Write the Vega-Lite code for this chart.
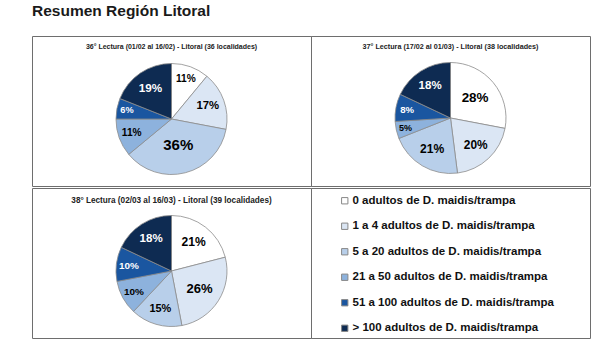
{
  "$schema": "https://vega.github.io/schema/vega-lite/v6.json",
  "padding": {"left": 31, "top": 4, "right": 10, "bottom": 7},
  "background": "white",
  "title": {"text": "Resumen Región Litoral", "anchor": "start", "fontSize": 15.5, "font": "Liberation Sans", "fontWeight": "bold", "color": "#1a1a1a", "offset": 16, "frame": "group"},
  "config": {
    "view": {"stroke": "#6e6e6e", "strokeWidth": 1},
    "style": {"view": {"stroke": "#6e6e6e", "strokeWidth": 1}},
    "concat": {"spacing": 0},
    "font": "Liberation Sans"
  },
  "datasets": {
    "pie": [
      {"lectura": "36", "k": 0, "cat": "0 adultos de D. maidis/trampa", "p": 0.11},
      {"lectura": "36", "k": 1, "cat": "1 a 4 adultos de D. maidis/trampa", "p": 0.17},
      {"lectura": "36", "k": 2, "cat": "5 a 20 adultos de D. maidis/trampa", "p": 0.36},
      {"lectura": "36", "k": 3, "cat": "21 a 50 adultos de D. maidis/trampa", "p": 0.11},
      {"lectura": "36", "k": 4, "cat": "51 a 100 adultos de D. maidis/trampa", "p": 0.06},
      {"lectura": "36", "k": 5, "cat": "> 100 adultos de D. maidis/trampa", "p": 0.19},
      {"lectura": "37", "k": 0, "cat": "0 adultos de D. maidis/trampa", "p": 0.28},
      {"lectura": "37", "k": 1, "cat": "1 a 4 adultos de D. maidis/trampa", "p": 0.20},
      {"lectura": "37", "k": 2, "cat": "5 a 20 adultos de D. maidis/trampa", "p": 0.21},
      {"lectura": "37", "k": 3, "cat": "21 a 50 adultos de D. maidis/trampa", "p": 0.05},
      {"lectura": "37", "k": 4, "cat": "51 a 100 adultos de D. maidis/trampa", "p": 0.08},
      {"lectura": "37", "k": 5, "cat": "> 100 adultos de D. maidis/trampa", "p": 0.18},
      {"lectura": "38", "k": 0, "cat": "0 adultos de D. maidis/trampa", "p": 0.21},
      {"lectura": "38", "k": 1, "cat": "1 a 4 adultos de D. maidis/trampa", "p": 0.26},
      {"lectura": "38", "k": 2, "cat": "5 a 20 adultos de D. maidis/trampa", "p": 0.15},
      {"lectura": "38", "k": 3, "cat": "21 a 50 adultos de D. maidis/trampa", "p": 0.10},
      {"lectura": "38", "k": 4, "cat": "51 a 100 adultos de D. maidis/trampa", "p": 0.10},
      {"lectura": "38", "k": 5, "cat": "> 100 adultos de D. maidis/trampa", "p": 0.18}
    ]
  },
  "spacing": 0,
  "vconcat": [
    {
      "spacing": 0,
      "bounds": "flush",
      "hconcat": [
        {
          "width": 279, "height": 150,
          "title": {"text": "36° Lectura (01/02 al 16/02) - Litoral (36 localidades)", "fontSize": 7, "fontWeight": "bold", "color": "#222222", "anchor": "middle", "frame": "group", "baseline": "alphabetic", "offset": -20},
          "data": {"name": "pie"},
          "transform": [{"filter": "datum.lectura == '36'"}],
          "encoding": {
            "theta": {"field": "p", "type": "quantitative", "stack": true},
            "order": {"field": "k", "type": "quantitative"}
          },
          "layer": [
            {
              "mark": {"type": "arc", "outerRadius": 55.5, "stroke": "#8c8c8c", "strokeWidth": 0.8, "yOffset": 8},
              "encoding": {
                "color": {"field": "cat", "type": "nominal",
                  "scale": {"domain": ["0 adultos de D. maidis/trampa", "1 a 4 adultos de D. maidis/trampa", "5 a 20 adultos de D. maidis/trampa", "21 a 50 adultos de D. maidis/trampa", "51 a 100 adultos de D. maidis/trampa", "> 100 adultos de D. maidis/trampa"], "range": ["#ffffff", "#dbe6f4", "#b8cfea", "#8db2dd", "#1a56a0", "#0e2b52"]},
                  "legend": {"title": null, "orient": "none", "legendX": 307, "legendY": 159, "padding": 0, "symbolType": "square", "symbolSize": 40, "symbolStrokeColor": "#888888", "symbolStrokeWidth": 1, "labelFont": "Liberation Sans", "labelFontWeight": "bold", "labelFontSize": 11.5, "labelColor": "#111111", "labelOffset": 2, "labelLimit": 0, "rowPadding": 12.5}}
              }
            },
            {
              "mark": {"type": "text", "fontWeight": "bold", "yOffset": 8},
              "encoding": {
                "text": {"field": "p", "type": "quantitative", "format": ".0%"},
                "radius": {"field": "p", "type": "quantitative", "scale": {"type": "linear", "zero": false, "domain": [0.05, 0.36], "range": [46, 27]}},
                "size": {"field": "p", "type": "quantitative", "scale": {"domain": [0.05, 0.36], "range": [9, 15]}, "legend": null},
                "color": {"condition": {"test": "datum.k >= 4", "value": "#ffffff"}, "value": "#000000"}
              }
            }
          ]
        },
        {
          "width": 279, "height": 150,
          "title": {"text": "37° Lectura (17/02 al 01/03) - Litoral (38 localidades)", "fontSize": 7.2, "fontWeight": "bold", "color": "#222222", "anchor": "middle", "frame": "group", "baseline": "alphabetic", "offset": -20},
          "data": {"name": "pie"},
          "transform": [{"filter": "datum.lectura == '37'"}],
          "encoding": {
            "theta": {"field": "p", "type": "quantitative", "stack": true},
            "order": {"field": "k", "type": "quantitative"}
          },
          "layer": [
            {
              "mark": {"type": "arc", "outerRadius": 55.5, "stroke": "#8c8c8c", "strokeWidth": 0.8, "yOffset": 7},
              "encoding": {
                "color": {"field": "cat", "type": "nominal",
                  "scale": {"domain": ["0 adultos de D. maidis/trampa", "1 a 4 adultos de D. maidis/trampa", "5 a 20 adultos de D. maidis/trampa", "21 a 50 adultos de D. maidis/trampa", "51 a 100 adultos de D. maidis/trampa", "> 100 adultos de D. maidis/trampa"], "range": ["#ffffff", "#dbe6f4", "#b8cfea", "#8db2dd", "#1a56a0", "#0e2b52"]},
                  "legend": {"title": null, "orient": "none", "legendX": 307, "legendY": 159, "padding": 0, "symbolType": "square", "symbolSize": 40, "symbolStrokeColor": "#888888", "symbolStrokeWidth": 1, "labelFont": "Liberation Sans", "labelFontWeight": "bold", "labelFontSize": 11.5, "labelColor": "#111111", "labelOffset": 2, "labelLimit": 0, "rowPadding": 12.5}}
              }
            },
            {
              "mark": {"type": "text", "fontWeight": "bold", "yOffset": 7},
              "encoding": {
                "text": {"field": "p", "type": "quantitative", "format": ".0%"},
                "radius": {"field": "p", "type": "quantitative", "scale": {"type": "linear", "zero": false, "domain": [0.05, 0.36], "range": [46, 27]}},
                "size": {"field": "p", "type": "quantitative", "scale": {"domain": [0.05, 0.36], "range": [9, 15]}, "legend": null},
                "color": {"condition": {"test": "datum.k >= 4", "value": "#ffffff"}, "value": "#000000"}
              }
            }
          ]
        }
      ]
    },
    {
      "spacing": 0,
      "bounds": "flush",
      "hconcat": [
        {
          "width": 279, "height": 150,
          "title": {"text": "38° Lectura (02/03 al 16/03) - Litoral (39 localidades)", "fontSize": 8.2, "fontWeight": "bold", "color": "#222222", "anchor": "middle", "frame": "group", "baseline": "alphabetic", "offset": -23},
          "data": {"name": "pie"},
          "transform": [{"filter": "datum.lectura == '38'"}],
          "encoding": {
            "theta": {"field": "p", "type": "quantitative", "stack": true},
            "order": {"field": "k", "type": "quantitative"}
          },
          "layer": [
            {
              "mark": {"type": "arc", "outerRadius": 55.5, "stroke": "#8c8c8c", "strokeWidth": 0.8, "yOffset": 8},
              "encoding": {
                "color": {"field": "cat", "type": "nominal",
                  "scale": {"domain": ["0 adultos de D. maidis/trampa", "1 a 4 adultos de D. maidis/trampa", "5 a 20 adultos de D. maidis/trampa", "21 a 50 adultos de D. maidis/trampa", "51 a 100 adultos de D. maidis/trampa", "> 100 adultos de D. maidis/trampa"], "range": ["#ffffff", "#dbe6f4", "#b8cfea", "#8db2dd", "#1a56a0", "#0e2b52"]},
                  "legend": {"title": null, "orient": "none", "legendX": 307, "legendY": 159, "padding": 0, "symbolType": "square", "symbolSize": 40, "symbolStrokeColor": "#888888", "symbolStrokeWidth": 1, "labelFont": "Liberation Sans", "labelFontWeight": "bold", "labelFontSize": 11.5, "labelColor": "#111111", "labelOffset": 2, "labelLimit": 0, "rowPadding": 12.5}}
              }
            },
            {
              "mark": {"type": "text", "fontWeight": "bold", "yOffset": 8},
              "encoding": {
                "text": {"field": "p", "type": "quantitative", "format": ".0%"},
                "radius": {"field": "p", "type": "quantitative", "scale": {"type": "linear", "zero": false, "domain": [0.05, 0.36], "range": [46, 27]}},
                "size": {"field": "p", "type": "quantitative", "scale": {"domain": [0.05, 0.36], "range": [9, 15]}, "legend": null},
                "color": {"condition": {"test": "datum.k >= 4", "value": "#ffffff"}, "value": "#000000"}
              }
            }
          ]
        },
        {
          "width": 279, "height": 150,
          "data": {"values": [{"blank": ""}]},
          "mark": {"type": "text"},
          "encoding": {"text": {"field": "blank", "type": "nominal"}}
        }
      ]
    }
  ]
}
